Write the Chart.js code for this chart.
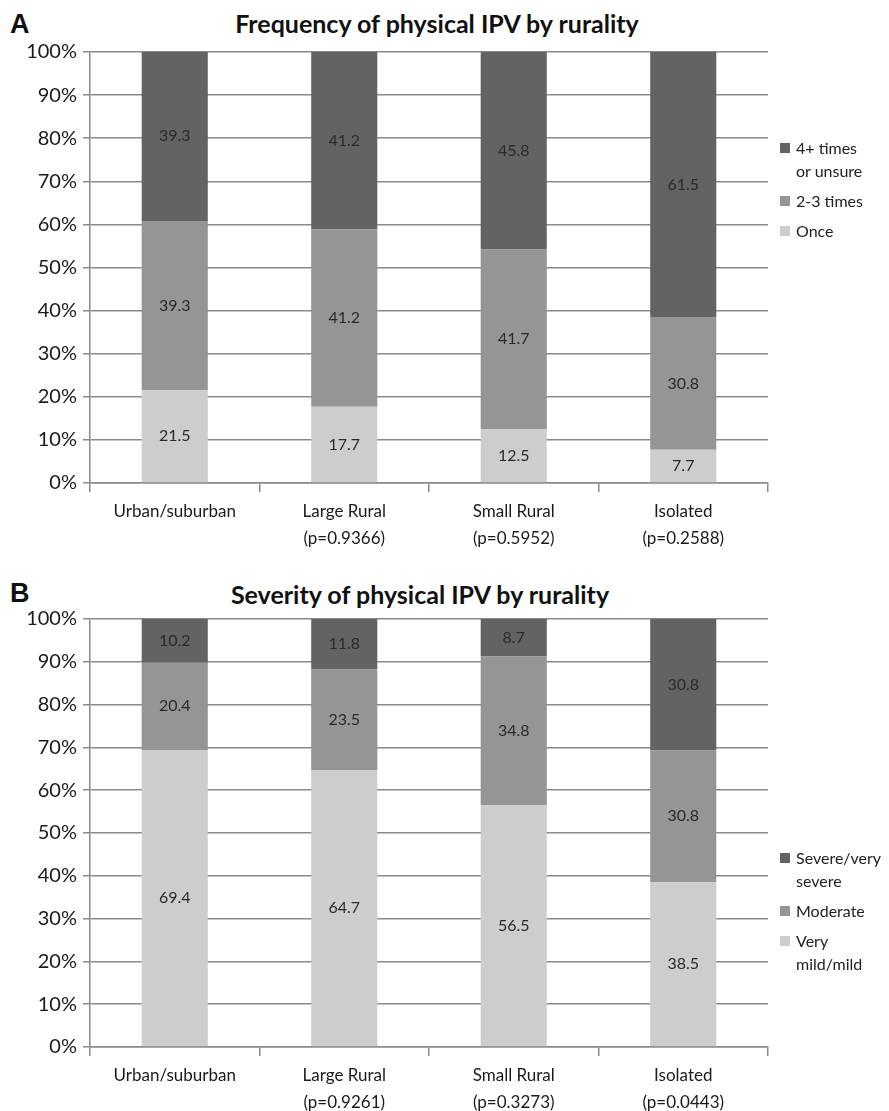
<!DOCTYPE html>
<html>
<head>
<meta charset="utf-8">
<script src="https://cdn.jsdelivr.net/npm/chart.js@4.4.1/dist/chart.umd.min.js"></script>
<style>
  body { margin: 0; background: #fff; font-family: Lato, sans-serif; }
  #page { position: relative; width: 889px; height: 1111px; overflow: hidden; }
  .panel { position: absolute; left: 0; width: 889px; }
  .letter { position: absolute; left: 10px; font: bold 27px "Liberation Sans", Arial, sans-serif; color: #111; }
  .title { position: absolute; font: bold 25px Lato, sans-serif; color: #111; white-space: nowrap; transform: translateX(-50%); }
  .legend { position: absolute; left: 780px; font: 16px Lato, sans-serif; color: #222; line-height: 23px; }
  .legend .item { position: relative; padding-left: 16px; margin-bottom: 7px; }
  .legend .sw { position: absolute; left: 0; top: 7px; width: 10px; height: 10px; }
</style>
</head>
<body>
<div id="page">
  <div class="letter" style="top:9px">A</div>
  <div class="title" style="left:437px; top:8px">Frequency of physical IPV by rurality</div>
  <div class="panel" style="top:0; height:560px"><canvas id="chartA"></canvas></div>
  <div class="legend" id="legendA" style="top:136px"></div>

  <div class="letter" style="top:578px">B</div>
  <div class="title" style="left:420px; top:579px">Severity of physical IPV by rurality</div>
  <div class="panel" style="top:560px; height:551px"><canvas id="chartB"></canvas></div>
  <div class="legend" id="legendB" style="top:846px"></div>
</div>

<script>
// panel A: frequency
const freqCategories = [
  "Urban/suburban",
  ["Large Rural", "(p=0.9366)"],
  ["Small Rural", "(p=0.5952)"],
  ["Isolated", "(p=0.2588)"],
];
const freqOnce = [21.5, 17.7, 12.5, 7.7];
const freqTwoThree = [39.3, 41.2, 41.7, 30.8];
const freqFourPlus = [39.3, 41.2, 45.8, 61.5];

// panel B: severity
const sevCategories = [
  "Urban/suburban",
  ["Large Rural", "(p=0.9261)"],
  ["Small Rural", "(p=0.3273)"],
  ["Isolated", "(p=0.0443)"],
];
const sevMild = [69.4, 64.7, 56.5, 38.5];
const sevModerate = [20.4, 23.5, 34.8, 30.8];
const sevSevere = [10.2, 11.8, 8.7, 30.8];

const yTicks = [0, 10, 20, 30, 40, 50, 60, 70, 80, 90, 100];

const LIGHT = "#cdcdcd";
const MID = "#959595";
const DARK = "#636363";

// writes the value in the middle of every bar segment
const segmentLabels = {
  id: "segmentLabels",
  afterDatasetsDraw(chart) {
    const ctx = chart.ctx;
    ctx.save();
    ctx.font = "16px Lato, sans-serif";
    ctx.fillStyle = "#2a2a2a";
    ctx.textAlign = "center";
    ctx.textBaseline = "middle";
    chart.data.datasets.forEach((ds, i) => {
      chart.getDatasetMeta(i).data.forEach((bar, j) => {
        const p = bar.getCenterPoint();
        ctx.fillText(ds.data[j].toFixed(1), p.x, p.y);
      });
    });
    ctx.restore();
  },
};

function buildLegend(el, items) {
  el.innerHTML = items
    .map((it) => `<div class="item"><span class="sw" style="background:${it.color}"></span>${it.text}</div>`)
    .join("");
}

function makeChart(id, categories, datasets, topPad, xHeight) {
  return new Chart(document.getElementById(id), {
    type: "bar",
    data: { labels: categories, datasets },
    plugins: [segmentLabels],
    options: {
      responsive: true,
      maintainAspectRatio: false,
      animation: false,
      layout: { padding: { top: topPad, right: 121, left: 0, bottom: 0 } },
      plugins: { legend: { display: false }, tooltip: { enabled: false } },
      datasets: { bar: { barPercentage: 0.39, categoryPercentage: 1 } },
      scales: {
        x: {
          stacked: true,
          border: { color: "#8a8a8a", width: 1.5 },
          grid: { offset: true, drawOnChartArea: false, drawTicks: true, tickLength: 9, color: "#8a8a8a", lineWidth: 1.5 },
          ticks: { color: "#1a1a1a", font: { family: "Lato", size: 17, lineHeight: 1.6 }, padding: 6, maxRotation: 0 },
          afterFit(scale) { scale.height = xHeight; },
        },
        y: {
          stacked: true,
          min: 0,
          max: 100,
          afterBuildTicks(scale) { scale.ticks = yTicks.map((v) => ({ value: v })); },
          border: { color: "#8a8a8a", width: 1.5 },
          grid: { color: "#8a8a8a", lineWidth: 1.5, tickLength: 7 },
          ticks: { color: "#1a1a1a", font: { family: "Lato", size: 20 }, padding: 6, callback: (v) => v + "%" },
          afterFit(scale) { scale.width = 90; },
        },
      },
    },
  });
}

makeChart("chartA", freqCategories, [
  { label: "Once", data: freqOnce, backgroundColor: LIGHT },
  { label: "2-3 times", data: freqTwoThree, backgroundColor: MID },
  { label: "4+ times or unsure", data: freqFourPlus, backgroundColor: DARK },
], 52, 77);

makeChart("chartB", sevCategories, [
  { label: "Very mild/mild", data: sevMild, backgroundColor: LIGHT },
  { label: "Moderate", data: sevModerate, backgroundColor: MID },
  { label: "Severe/very severe", data: sevSevere, backgroundColor: DARK },
], 59, 64);

buildLegend(document.getElementById("legendA"), [
  { color: DARK, text: "4+ times<br>or unsure" },
  { color: MID, text: "2-3 times" },
  { color: LIGHT, text: "Once" },
]);
buildLegend(document.getElementById("legendB"), [
  { color: DARK, text: "Severe/very<br>severe" },
  { color: MID, text: "Moderate" },
  { color: LIGHT, text: "Very<br>mild/mild" },
]);
</script>
</body>
</html>
